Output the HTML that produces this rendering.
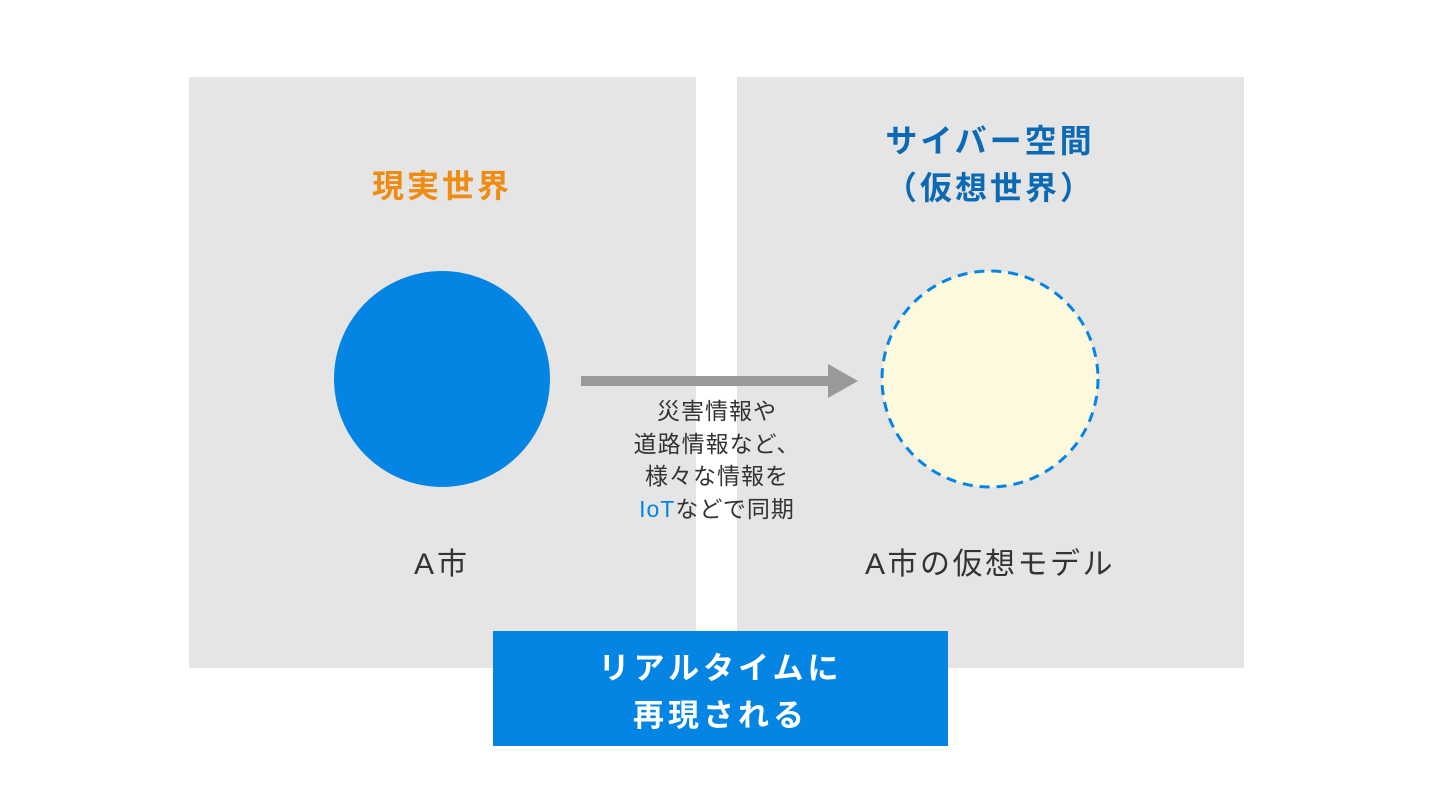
<!DOCTYPE html>
<html><head><meta charset="utf-8"><style>
body{margin:0;width:1430px;height:794px;background:#fff;position:relative;overflow:hidden;font-family:"Liberation Sans","Noto Sans CJK JP",sans-serif;}
.p{position:absolute;background:#e5e5e5;top:77px;height:591px;width:507px;}
.t{position:absolute;text-align:center;white-space:nowrap;}
</style></head><body>
<div class="p" style="left:189px"></div>
<div class="p" style="left:737px"></div>
<div class="t" style="left:342px;width:200px;top:161px;font-size:32px;font-weight:bold;color:#ef8c12;letter-spacing:3px">現実世界</div>
<div class="t" style="left:840px;width:300px;top:118px;font-size:32px;font-weight:bold;color:#0b6ab3;letter-spacing:3px;line-height:47px">サイバー空間<br>（仮想世界）</div>
<svg style="position:absolute;left:0;top:0" width="1430" height="794">
<circle cx="442" cy="379" r="108" fill="#0585e3"/>
<circle cx="990" cy="379" r="108" fill="#fdf9dc" stroke="#0585e3" stroke-width="3" stroke-dasharray="10 7"/>
<rect x="581" y="376" width="250" height="10" fill="#999"/>
<polygon points="828,364 858,381 828,398" fill="#999"/>
</svg>
<div class="t" style="left:567px;width:300px;top:395px;font-size:23px;line-height:32.5px;color:#333;letter-spacing:1px">災害情報や<br>道路情報など、<br>様々な情報を<br><span style="color:#0585e3">IoT</span>などで同期</div>
<div class="t" style="left:342px;width:200px;top:539px;font-size:30px;color:#333;letter-spacing:3px">A市</div>
<div class="t" style="left:840px;width:300px;top:539px;font-size:30px;color:#333;letter-spacing:2.5px">A市の仮想モデル</div>
<div style="position:absolute;left:493px;top:631px;width:455px;height:115px;background:#0585e3"></div>
<div class="t" style="left:493px;width:455px;top:645px;font-size:31px;font-weight:bold;color:#fff;letter-spacing:4px;line-height:47px">リアルタイムに<br>再現される</div>
</body></html>
